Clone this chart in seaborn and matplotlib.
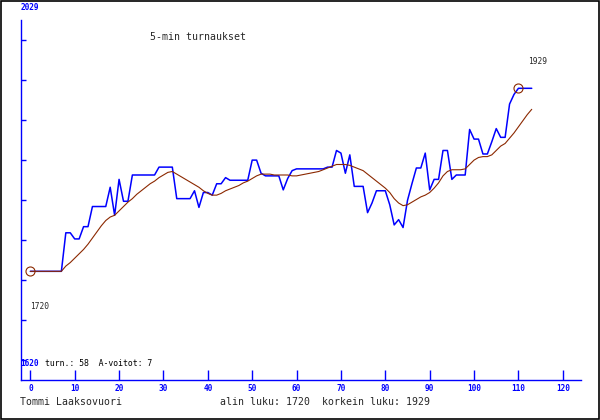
import numpy as np
import pandas as pd
import matplotlib
matplotlib.use("Agg")
import matplotlib.pyplot as plt
import seaborn as sns
from matplotlib.patches import Rectangle

# rating after each game (blue) and its running average (brown)
rating = [1720, 1720, 1720, 1720, 1720, 1720, 1720, 1720, 1764, 1764,
          1757, 1757, 1771, 1771, 1794, 1794, 1794, 1794, 1816, 1784,
          1825, 1800, 1800, 1830, 1830, 1830, 1830, 1830, 1830, 1839,
          1839, 1839, 1839, 1803, 1803, 1803, 1803, 1812, 1793, 1810,
          1810, 1807, 1820, 1820, 1827, 1824, 1824, 1824, 1824, 1824,
          1847, 1847, 1832, 1829, 1829, 1829, 1829, 1813, 1826, 1835,
          1837, 1837, 1837, 1837, 1837, 1837, 1837, 1839, 1839, 1858,
          1855, 1832, 1853, 1817, 1817, 1817, 1787, 1798, 1812, 1812,
          1812, 1796, 1773, 1779, 1770, 1801, 1820, 1838, 1838, 1855,
          1813, 1825, 1825, 1858, 1858, 1825, 1830, 1830, 1830, 1882,
          1871, 1871, 1854, 1854, 1868, 1883, 1873, 1873, 1911, 1922,
          1929, 1929, 1929, 1929]
average = [1720, 1720, 1720, 1720, 1720, 1720, 1720, 1720, 1726, 1730,
           1735, 1740, 1745, 1751, 1758, 1765, 1772, 1778, 1782, 1784,
           1789, 1794, 1799, 1803, 1808, 1812, 1816, 1820, 1823, 1827,
           1830, 1833, 1834, 1831, 1828, 1825, 1822, 1819, 1816, 1812,
           1809, 1807, 1807, 1809, 1812, 1814, 1816, 1818, 1821, 1823,
           1826, 1829, 1831, 1831, 1831, 1830, 1830, 1830, 1830, 1829,
           1829, 1830, 1831, 1832, 1833, 1834, 1836, 1838, 1840, 1842,
           1842, 1842, 1841, 1839, 1837, 1835, 1831, 1827, 1823, 1819,
           1815, 1810, 1803, 1798, 1795, 1796, 1799, 1802, 1805, 1807,
           1810, 1815, 1821, 1829, 1834, 1836, 1836, 1836, 1837, 1842,
           1847, 1850, 1851, 1851, 1853, 1858, 1863, 1866, 1872, 1878,
           1885, 1892, 1899, 1905]
games = list(range(len(rating)))

title = "5-min turnaukset"
player = "Tommi Laaksovuori"
low, high = 1720, 1929
axis_top, axis_bottom = 2029, 1620
tournaments, a_wins = 58, 7
xticks = list(range(0, 130, 10))

BLUE = "#0000ff"
BROWN = "#8b2800"
MONO = "DejaVu Sans Mono"

sns.set_style("white")
plt.rcParams["font.family"] = [MONO]

df = pd.DataFrame({"game": games, "rating": rating, "average": average})

W, H = 600, 420
fig = plt.figure(figsize=(W / 100, H / 100), dpi=100)
ax = fig.add_axes([21 / W, 1 - 380 / H, 560 / W, 360 / H])

sns.lineplot(data=df, x="game", y="rating", color=BLUE, linewidth=1.1, ax=ax)
sns.lineplot(data=df, x="game", y="average", color=BROWN, linewidth=0.8, ax=ax)

# circles at the lowest and highest rating
i_low = rating.index(low)
i_high = rating.index(high)
ax.plot([games[i_low], games[i_high]], [low, high], "o", ms=6.5, mfc="none",
        mec=BROWN, mew=0.8)

ax.set_xlim(-2.1, 124.1)
ax.set_ylim(1595.9, 2007.0)
y0, y1 = ax.get_ylim()
ax.set_yticks([y0 + (y1 - y0) * (20 + 40 * k) / 360 for k in range(9)])
ax.set_yticklabels([])
ax.set_xticks(xticks)
ax.set_xticklabels([str(t) for t in xticks], color=BLUE, fontsize=5.6,
                   fontweight="bold", family=MONO)
ax.tick_params(axis="x", bottom=True, direction="in", length=7.2, width=1.0,
               color=BLUE, pad=3)
ax.tick_params(axis="y", left=True, direction="in", length=3.8, width=1.0,
               color=BLUE)
ax.set_xlabel("")
ax.set_ylabel("")
ax.grid(False)
for side in ["top", "right"]:
    ax.spines[side].set_visible(False)
for side in ["left", "bottom"]:
    ax.spines[side].set_color(BLUE)
    ax.spines[side].set_linewidth(1.0)

ax.annotate(str(low), (games[i_low], low), xytext=(0, -25), textcoords="offset points",
            ha="left", va="center", fontsize=5.7, family=MONO)
ax.annotate(str(high), (games[i_high], high), xytext=(6.8, 19), textcoords="offset points",
            ha="left", va="center", fontsize=5.7, family=MONO)


def px(x, y):
    return x / W, 1 - y / H


fig.text(*px(20.5, 8), str(axis_top), color=BLUE, fontsize=5.6, fontweight="bold",
         va="center", ha="left", family=MONO)
fig.text(*px(20.5, 364), str(axis_bottom), color=BLUE, fontsize=5.6, fontweight="bold",
         va="center", ha="left", family=MONO)
fig.text(*px(45, 364), f"turn.: {tournaments}  A-voitot: {a_wins}", color="black",
         fontsize=5.9, va="center", ha="left", family=MONO)
fig.text(*px(149.5, 37), title, fontsize=7.1, va="center", ha="left", family=MONO)
fig.text(*px(20, 402), player, fontsize=7.1, va="center", ha="left", family=MONO)
fig.text(*px(220, 402), f"alin luku: {low}  korkein luku: {high}", fontsize=7.1,
         va="center", ha="left", family=MONO)

fig.patches.append(Rectangle((0.5 / W, 0.8 / H), 598.6 / W, 418.6 / H, fill=False,
                             edgecolor="black", linewidth=1.2,
                             transform=fig.transFigure, figure=fig))

fig.savefig("out.png", dpi=100)
